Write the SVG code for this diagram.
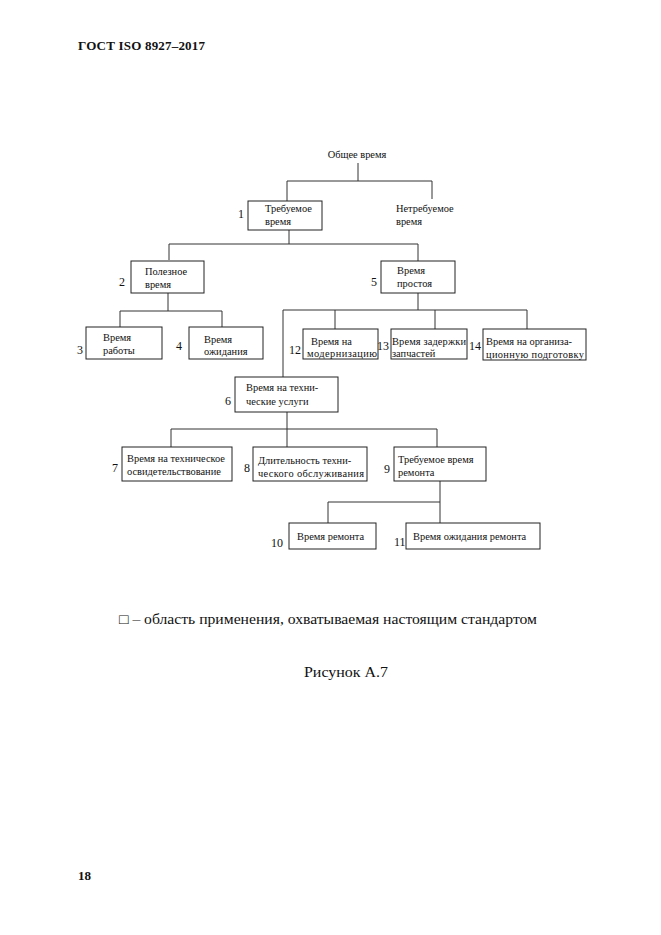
<svg xmlns="http://www.w3.org/2000/svg" width="661" height="935" viewBox="0 0 661 935">
<style>
text{font-family:"Liberation Serif","Times New Roman",serif;fill:#111}
.t{font-size:10.4px}
.n{font-size:12px}
rect{fill:#fff;stroke:#222;stroke-width:1}
#connectors path{fill:none;stroke:#333;stroke-width:1}
</style>
<rect x="0" y="0" width="661" height="935" style="fill:#fff;stroke:none"/>
<text x="78" y="50" style="font-size:13px;font-weight:bold" textLength="127">ГОСТ ISO 8927–2017</text>
<g id="connectors">
<path d="M358 163V181M287 181H432M287 181V201M432 181V199"/>
<path d="M289 230V244M169 244H418M169 244V260M418 244V261"/>
<path d="M168 293V311M120 311H222M120 311V327M222 311V327"/>
<path d="M418 293V310M283 310H527M283 310V377M335 310V329M435 310V329M527 310V329"/>
<path d="M287 412V429M171 429H437M171 429V447M287 429V447M437 429V447"/>
<path d="M440 481V523M328 502H440M328 502V523"/>
</g>
<g id="n0"><text class="t" x="357" y="158" text-anchor="middle">Общее время</text></g>
<g id="n1"><rect x="248" y="201" width="74" height="29"/><text class="n" x="238" y="218">1</text><text class="t" x="265" y="212">Требуемое</text><text class="t" x="265" y="225">время</text></g>
<g id="nn"><text class="t" x="396" y="212">Нетребуемое</text><text class="t" x="396" y="225">время</text></g>
<g id="n2"><rect x="131" y="261" width="73" height="32"/><text class="n" x="119" y="286">2</text><text class="t" x="145" y="275">Полезное</text><text class="t" x="145" y="288">время</text></g>
<g id="n5"><rect x="381" y="261" width="74" height="32"/><text class="n" x="371" y="286">5</text><text class="t" x="397" y="274">Время</text><text class="t" x="397" y="287">простоя</text></g>
<g id="n3"><rect x="86" y="327" width="76" height="32"/><text class="n" x="77" y="354">3</text><text class="t" x="103" y="341">Время</text><text class="t" x="103" y="354">работы</text></g>
<g id="n4"><rect x="189" y="327" width="74" height="32"/><text class="n" x="176" y="350">4</text><text class="t" x="204" y="343">Время</text><text class="t" x="204" y="355">ожидания</text></g>
<g id="n12"><rect x="303" y="329" width="75" height="30"/><text class="n" x="289" y="354">12</text><text class="t" x="311" y="345">Время на</text><text class="t" x="307" y="357" textLength="70">модернизацию</text></g>
<g id="n13"><rect x="391" y="329" width="76" height="30"/><text class="n" x="377" y="350">13</text><text class="t" x="392" y="345" textLength="74">Время задержки</text><text class="t" x="392" y="357">запчастей</text></g>
<g id="n14"><rect x="483" y="329" width="103" height="31"/><text class="n" x="469" y="350">14</text><text class="t" x="486" y="345">Время на организа-</text><text class="t" x="486" y="358" textLength="98">ционную подготовку</text></g>
<g id="n6"><rect x="235" y="377" width="103" height="35"/><text class="n" x="225" y="405">6</text><text class="t" x="246" y="391">Время на техни-</text><text class="t" x="246" y="405">ческие услуги</text></g>
<g id="n7"><rect x="122" y="447" width="110" height="34"/><text class="n" x="112" y="472">7</text><text class="t" x="127" y="462">Время на техническое</text><text class="t" x="127" y="475">освидетельствование</text></g>
<g id="n8"><rect x="253" y="447" width="114" height="34"/><text class="n" x="244" y="472">8</text><text class="t" x="258" y="464">Длительность техни-</text><text class="t" x="258" y="477" textLength="106">ческого обслуживания</text></g>
<g id="n9"><rect x="394" y="447" width="92" height="34"/><text class="n" x="384" y="473">9</text><text class="t" x="398" y="463">Требуемое время</text><text class="t" x="398" y="476">ремонта</text></g>
<g id="n10"><rect x="289" y="523" width="87" height="26"/><text class="n" x="271" y="547">10</text><text class="t" x="297" y="540">Время ремонта</text></g>
<g id="n11"><rect x="406" y="523" width="134" height="26"/><text class="n" x="394" y="546">11</text><text class="t" x="413" y="540">Время ожидания ремонта</text></g>
<text x="119" y="624" style="font-size:14px" textLength="418" lengthAdjust="spacingAndGlyphs">□ – область применения, охватываемая настоящим стандартом</text>
<text x="304" y="677" style="font-size:14px" textLength="84" lengthAdjust="spacingAndGlyphs">Рисунок А.7</text>
<text x="78" y="880" style="font-size:13px;font-weight:bold">18</text>
</svg>
